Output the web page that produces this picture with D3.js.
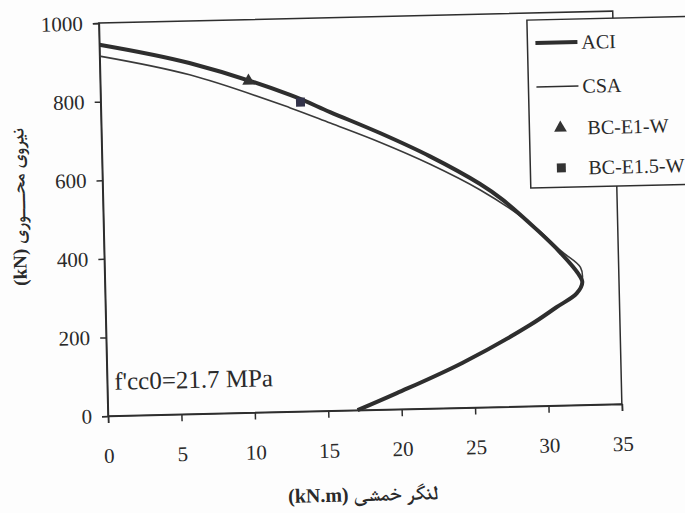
<!DOCTYPE html>
<html>
<head>
<meta charset="utf-8">
<script src="https://cdn.jsdelivr.net/npm/d3@7"></script>
<style>
  body { margin: 0; background: #fdfdfd; }
</style>
</head>
<body>
<div id="chart"></div>
<script>
// data (moment kN.m, axial force kN)
var aciM = [0, 6.1, 12.9, 15.6, 19.0, 22.3, 25.7, 27.2, 29.5, 31.0, 32.2, 32.5, 32.1, 30.7, 28.9, 24.2, 19.7, 17.0];
var aciP = [945, 893, 806, 760, 703, 642, 568, 527, 448, 391, 336, 312, 284, 250, 207, 114, 41, 0];
var csaM = [0, 6.1, 12.9, 15.6, 18.9, 22.3, 25.7, 28.2, 29.6, 31.1, 32.4, 32.5, 32.1, 30.7, 28.9, 24.2, 19.7, 17.0];
var csaP = [916, 863, 773, 732, 681, 622, 553, 490, 448, 393, 350, 318, 284, 250, 207, 114, 41, 0];
var testNames = ["BC-E1-W", "BC-E1.5-W"];
var testM = [10.1, 13.6];
var testP = [844, 787];
var xTicks = [0, 5, 10, 15, 20, 25, 30, 35];
var yTicks = [0, 200, 400, 600, 800, 1000];

var svgWidth = 685;
var svgHeight = 513;
var margin = { top: 23, left: 108 };
var width = 514;
var height = 393;
var ink = "#2e2e2e";
var serif = "'Liberation Serif'";
var arabic = "'Liberation Serif', FreeSerif";

var svg = d3.select("#chart")
  .append("svg")
  .attr("width", svgWidth)
  .attr("height", svgHeight);

// the scan is slightly tilted, so the whole figure is rotated about the origin
var page = svg.append("g")
  .attr("transform", `rotate(-1.335, ${margin.left}, ${margin.top + height})`);

var chartGroup = page.append("g")
  .attr("transform", `translate(${margin.left}, ${margin.top})`);

var x = d3.scaleLinear().domain([0, 35]).range([0, width]);
var y = d3.scaleLinear().domain([0, 1000]).range([height, 0]);

// frame
chartGroup.append("rect")
  .attr("width", width)
  .attr("height", height)
  .attr("fill", "none")
  .attr("stroke", ink)
  .attr("stroke-width", 1.5);

var xAxis = chartGroup.append("g")
  .attr("transform", `translate(0, ${height})`)
  .call(d3.axisBottom(x).tickValues(xTicks).tickSize(7).tickPadding(25).tickFormat(d3.format("d")));

var yAxis = chartGroup.append("g")
  .call(d3.axisLeft(y).tickValues(yTicks).tickSize(6).tickPadding(10).tickFormat(d3.format("d")));

[xAxis, yAxis].forEach(function(ax) {
  ax.select(".domain").attr("stroke", ink).attr("stroke-width", 1.5);
  ax.selectAll(".tick line").attr("stroke", ink).attr("stroke-width", 1.5);
  ax.selectAll(".tick text")
    .style("font-family", serif)
    .style("font-size", "21px")
    .attr("fill", "#2a2a2a");
});

var line = d3.line()
  .x(d => x(d[0]))
  .y(d => y(d[1]))
  .curve(d3.curveCatmullRom.alpha(0.5));

var aciData = aciM.map((m, i) => [m, aciP[i]]);
var csaData = csaM.map((m, i) => [m, csaP[i]]);

chartGroup.append("path")
  .datum(csaData)
  .attr("d", line)
  .attr("fill", "none")
  .attr("stroke", "#3a3a3a")
  .attr("stroke-width", 1.6);

chartGroup.append("path")
  .datum(aciData)
  .attr("d", line)
  .attr("fill", "none")
  .attr("stroke", ink)
  .attr("stroke-width", 4);

var tri = d3.symbol().type(d3.symbolTriangle).size(70);
var sq = d3.symbol().type(d3.symbolSquare).size(80);

chartGroup.append("path")
  .attr("d", tri())
  .attr("transform", `translate(${x(testM[0])}, ${y(testP[0])})`)
  .attr("fill", "#333");

chartGroup.append("path")
  .attr("d", sq())
  .attr("transform", `translate(${x(testM[1])}, ${y(testP[1])})`)
  .attr("fill", "#33334a");

// note inside the plot
chartGroup.append("text")
  .attr("x", 7)
  .attr("y", height - 26)
  .attr("fill", "#2a2a2a")
  .style("font-family", serif)
  .style("font-size", "25px")
  .text("f'cc0=21.7 MPa");

// legend
var legend = page.append("g")
  .attr("transform", "translate(536, 30)");

legend.append("rect")
  .attr("width", 170)
  .attr("height", 168)
  .attr("fill", "#fdfdfd")
  .attr("stroke", ink)
  .attr("stroke-width", 1.5);

var legendNames = ["ACI", "CSA"].concat(testNames);
var legendY = [23, 67, 108.5, 148.5];

legendNames.forEach(function(name, i) {
  var row = legend.append("g").attr("transform", `translate(0, ${legendY[i]})`);
  if (i === 0 || i === 1) {
    row.append("line")
      .attr("x1", 8).attr("x2", 50)
      .attr("stroke", ink)
      .attr("stroke-width", i === 0 ? 4 : 1.5);
  } else {
    row.append("path")
      .attr("d", i === 2 ? tri() : sq())
      .attr("transform", "translate(31, 0)")
      .attr("fill", "#333");
  }
  row.append("text")
    .attr("x", i < 2 ? 54 : 58)
    .attr("dy", "0.35em")
    .attr("fill", "#2a2a2a")
    .style("font-family", serif)
    .style("font-size", "20px")
    .text(name);
});

// axis titles
page.append("text")
  .attr("x", 361)
  .attr("y", 507)
  .attr("text-anchor", "middle")
  .attr("fill", "#2a2a2a")
  .style("font-family", arabic)
  .style("font-size", "20px")
  .style("font-weight", "bold")
  .text("(kN.m) لنگر خمشی");

page.append("text")
  .attr("transform", "translate(30, 205) rotate(-90)")
  .attr("text-anchor", "middle")
  .attr("fill", "#2a2a2a")
  .style("font-family", arabic)
  .style("font-size", "19px")
  .style("font-weight", "bold")
  .text("(kN) نیروی محـــوری");
</script>
</body>
</html>
